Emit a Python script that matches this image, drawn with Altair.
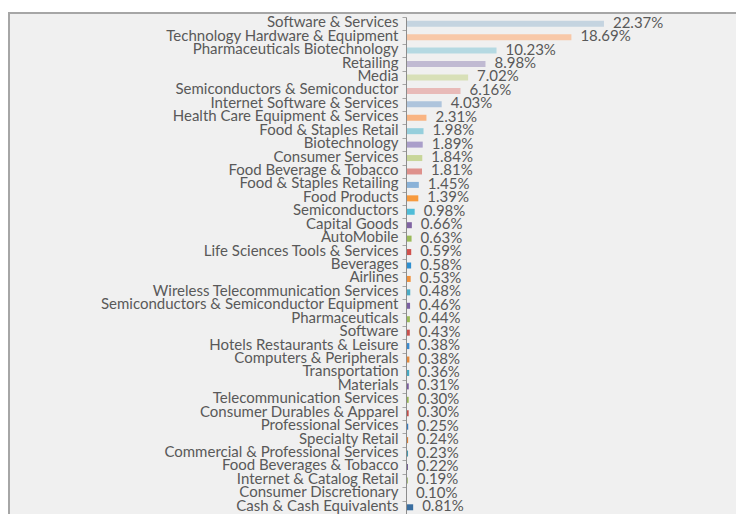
import altair as alt
import pandas as pd

categories = [
    "Software & Services", "Technology Hardware & Equipment", "Pharmaceuticals Biotechnology",
    "Retailing", "Media", "Semiconductors & Semiconductor", "Internet Software & Services",
    "Health Care Equipment & Services", "Food & Staples Retail", "Biotechnology",
    "Consumer Services", "Food Beverage & Tobacco", "Food & Staples Retailing", "Food Products",
    "Semiconductors", "Capital Goods", "AutoMobile", "Life Sciences Tools & Services",
    "Beverages", "Airlines", "Wireless Telecommunication Services",
    "Semiconductors & Semiconductor Equipment", "Pharmaceuticals", "Software",
    "Hotels Restaurants & Leisure", "Computers & Peripherals", "Transportation", "Materials",
    "Telecommunication Services", "Consumer Durables & Apparel", "Professional Services",
    "Specialty Retail", "Commercial & Professional Services", "Food Beverages & Tobacco",
    "Internet & Catalog Retail", "Consumer Discretionary", "Cash & Cash Equivalents",
]
values = [
    22.37, 18.69, 10.23, 8.98, 7.02, 6.16, 4.03, 2.31, 1.98, 1.89, 1.84, 1.81, 1.45, 1.39,
    0.98, 0.66, 0.63, 0.59, 0.58, 0.53, 0.48, 0.46, 0.44, 0.43, 0.38, 0.38, 0.36, 0.31,
    0.30, 0.30, 0.25, 0.24, 0.23, 0.22, 0.19, 0.10, 0.81,
]
colors = [
    "#c5d4e0", "#f8c8a8", "#b5d9e2", "#c0bad2", "#d8e0b8", "#e8bab8", "#aec4dc", "#f9b482",
    "#96cfdc", "#aa9fca", "#c8d699", "#de918c", "#8ab2d8", "#f79a3e", "#50bdd8", "#8064a2",
    "#9bbb59", "#d0514d", "#2f8fd0", "#f0903a", "#4bacc6", "#7c62a4", "#9bbb59", "#c8504d",
    "#3a8ad0", "#e58a3c", "#46a8c2", "#7a5ea0", "#98b556", "#c04d4a", "#3a7cc0", "#d8843e",
    "#4598ae", "#6e5a90", "#8aa552", "#b84a47", "#3a6ea0",
]

df = pd.DataFrame({"category": categories, "value": values, "color": colors})
df["label"] = df["value"].map(lambda v: f"{v:.2f}%")

W = 330
H = 497
FONT = "Lato"

y_enc = alt.Y(
    "category:N",
    sort=categories,
    scale=alt.Scale(domain=categories, paddingInner=0, paddingOuter=0),
    axis=alt.Axis(
        title=None,
        labelFont=FONT,
        labelFontSize=15,
        labelColor="#595959",
        labelPadding=4,
        labelLimit=400,
        labelOffset=-2,
        tickBand="extent",
        tickSize=4,
        tickColor="#a6a6a6",
        domainColor="#8c8c8c",
        domainWidth=1,
        grid=False,
        zindex=1,
    ),
)
x_enc = alt.X("value:Q", scale=alt.Scale(domain=[0, 37.29], nice=False, zero=True), axis=None)

frame = alt.Chart(pd.DataFrame({"k": [0]})).mark_rect(
    fill="#f0f0f0", stroke="#a6a6a6", strokeWidth=2
).encode(
    x=alt.value(-397), x2=alt.value(W + 20), y=alt.value(-4), y2=alt.value(H + 20)
)

bars = alt.Chart(df).mark_bar(size=6).encode(
    y=y_enc,
    x=x_enc,
    color=alt.Color("color:N", scale=None),
)

labels = alt.Chart(df).mark_text(
    align="left", baseline="middle", dx=9, dy=-1, font=FONT, fontSize=15, color="#595959"
).encode(
    y=alt.Y("category:N", sort=categories),
    x=x_enc,
    text="label:N",
)

chart = alt.layer(frame, bars, labels).properties(
    width=W,
    height=H,
    background="white",
    padding={"left": 398, "top": 9, "right": 0, "bottom": 0},
    autosize=alt.AutoSizeParams(type="none"),
).configure_view(stroke=None)

chart.save("out.html", embed_options={"renderer": "svg", "actions": False})
